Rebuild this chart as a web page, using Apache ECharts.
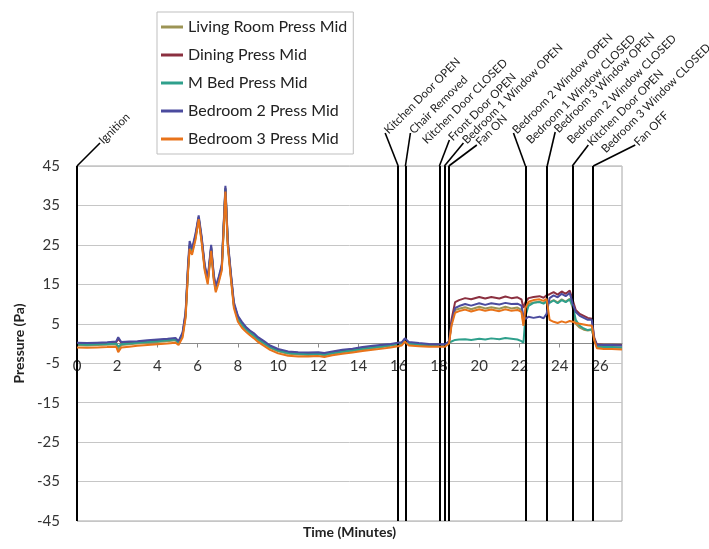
<!DOCTYPE html>
<html>
<head>
<meta charset="utf-8">
<script src="https://cdn.jsdelivr.net/npm/echarts@6/dist/echarts.min.js"></script>
<style>html,body{margin:0;padding:0;background:#fff;}#c{width:709px;height:549px;}</style>
</head>
<body>
<div id="c"></div>
<script>
// ---- data ----
const times = [
  0, 0.5, 1, 1.5, 1.95, 2.05, 2.2, 2.6, 3, 3.5,
  4, 4.5, 4.9, 5.05, 5.25, 5.4, 5.52, 5.6, 5.72, 5.9,
  6.05, 6.2, 6.35, 6.5, 6.67, 6.8, 6.9, 7.05, 7.2, 7.38,
  7.5, 7.65, 7.8, 8.0, 8.2, 8.4, 8.6, 8.8, 9.0, 9.3,
  9.6, 10.0, 10.5, 11, 11.5, 12, 12.3, 12.7, 13.2, 13.7,
  14.2, 14.7, 15.2, 15.6, 15.95, 16.15, 16.3, 16.5, 17, 17.5,
  18, 18.3, 18.5, 18.62, 18.8, 19, 19.3, 19.6, 20, 20.3,
  20.6, 21, 21.3, 21.6, 21.9, 22.1, 22.2, 22.3, 22.45, 22.7,
  23, 23.2, 23.35, 23.5, 23.7, 23.9, 24.1, 24.3, 24.5, 24.65,
  24.8, 25, 25.2, 25.4, 25.6, 25.72, 25.85, 26.2, 26.6, 27.1
];
const livingRoom = [
  -0.4, -0.5, -0.4, -0.3, -0.2, -1.5, -0.4, -0.2, 0, 0.2,
  0.4, 0.6, 0.8, 0, 2, 7, 18.5, 24.5, 23, 27,
  31.5, 26, 19, 15.5, 24, 16.5, 13.5, 16, 19, 39,
  25, 17, 9.5, 6, 4.5, 3.5, 2.6, 1.8, 0.9, -0.1,
  -1.1, -2.0, -2.6, -2.8, -2.9, -2.8, -3.0, -2.6, -2.2, -1.9,
  -1.5, -1.2, -0.9, -0.6, -0.3, 0.0, 0.7, -0.1, -0.4, -0.5,
  -0.5, -0.5, 0.3, 5, 8.5, 8.8, 9.2, 8.7, 9.3, 8.9,
  9.2, 8.8, 9.3, 8.9, 9.1, 8.5, 5, 8.5, 10, 10.4,
  10.6, 10.2, 10.8, 10.5, 11, 10.4, 11.2, 10.6, 11.3, 9,
  5, 4, 3.5, 3.3, 3.5, 1, -0.8, -1.0, -1.0, -1.1
];
const dining = [
  0, -0.1, 0, 0.1, 0.3, 1.2, 0.2, 0.3, 0.4, 0.6,
  0.8, 1.0, 1.2, 0.4, 2.5, 7.5, 19, 25, 23.5, 27.5,
  32, 26.5, 19.5, 16, 24.5, 17, 14, 16.5, 19.5, 39.5,
  25.5, 17.5, 10, 6.8, 5.2, 4.0, 3.1, 2.3, 1.3, 0.3,
  -0.7, -1.6, -2.2, -2.4, -2.5, -2.4, -2.6, -2.2, -1.8, -1.5,
  -1.1, -0.8, -0.5, -0.3, 0.0, 0.2, 1.0, 0.2, -0.1, -0.3,
  -0.3, -0.3, 0.5, 6, 10.5, 11, 11.5, 11.2, 11.8, 11.4,
  11.8, 11.4, 11.9, 11.5, 11.7, 11.2, 9, 10.5, 11.5, 11.8,
  12, 11.6, 12.2, 12.5, 13, 12.4, 13.2, 12.6, 13.4, 11,
  8.5, 7.5, 7, 6.5, 6.3, 1.5, -0.2, -0.3, -0.3, -0.4
];
const mBed = [
  -0.2, -0.3, -0.2, -0.1, 0, -0.8, -0.2, 0, 0.2, 0.4,
  0.6, 0.8, 1.0, 0.2, 2.2, 7.2, 18.8, 24.8, 23.2, 27.2,
  31.8, 26.2, 19.2, 15.8, 24.2, 16.8, 13.8, 16.2, 19.2, 39.2,
  25.2, 17.2, 9.8, 6.4, 4.8, 3.7, 2.8, 2.0, 1.1, 0.1,
  -0.9, -1.8, -2.4, -2.6, -2.7, -2.6, -2.8, -2.4, -2.0, -1.7,
  -1.3, -1.0, -0.7, -0.4, -0.1, 0.1, 0.8, 0.0, -0.2, -0.3,
  -0.3, -0.3, 0.2, 0.5, 0.9, 1.0, 1.1, 0.9, 1.2, 1.0,
  1.3, 1.1, 1.4, 1.2, 1.0, 0.6, 0.2, 7, 9.5, 10.3,
  10.5, 10.1, 10.6, 10.3, 10.9, 10.2, 11.0, 10.5, 11.2, 9.5,
  6, 4.5, 3.8, 3.4, 3.6, 1, -0.7, -0.9, -0.9, -1.0
];
const bedroom2 = [
  0.2, 0.1, 0.2, 0.3, 0.5, 1.6, 0.4, 0.5, 0.6, 0.8,
  1.0, 1.2, 1.4, 0.6, 2.8, 8, 20, 26, 24, 28,
  32.5, 27, 20, 16.5, 25, 17.5, 14.5, 17, 20, 40,
  26, 18, 10.5, 7, 5.5, 4.2, 3.3, 2.6, 1.6, 0.6,
  -0.5, -1.4, -2.0, -2.2, -2.3, -2.2, -2.4, -2.0, -1.6, -1.3,
  -0.9, -0.6, -0.3, -0.1, 0.2, 0.3, 1.3, 0.4, 0.1, -0.1,
  -0.2, -0.2, 0.5, 5, 9, 9.5, 10, 9.6, 10.2, 9.8,
  10.2, 9.9, 10.3, 10, 10.1, 9.6, 7, 6.2, 6.8, 6.5,
  6.8, 6.4, 7.5, 11.5, 12.2, 11.7, 12.6, 12, 12.8, 10,
  8, 7, 6.5, 6, 6, 1, -0.3, -0.4, -0.4, -0.5
];
const bedroom3 = [
  -1.0, -1.1, -1.0, -0.9, -0.8, -2.2, -1.0, -0.8, -0.6, -0.4,
  -0.2, 0.0, 0.2, -0.4, 1.5, 6.5, 18, 24, 22.5, 26.5,
  31.5, 25.5, 18.5, 15, 23.5, 16, 13, 15.5, 18.5, 38.5,
  24.5, 16.5, 9, 5.5, 4, 3, 2.1, 1.3, 0.4, -0.6,
  -1.6, -2.5, -3.1, -3.3, -3.3, -3.2, -3.4, -3.0, -2.6, -2.3,
  -1.9, -1.6, -1.3, -1.0, -0.7, -0.5, 0.5, -0.5, -0.7, -0.8,
  -0.8, -0.8, 0, 4.5, 7.8, 8.2, 8.6, 8.1, 8.7, 8.3,
  8.6, 8.2, 8.7, 8.3, 8.5, 8, 4.5, 9, 10.6, 11,
  11.2, 10.8, 11.3, 6, 5.5, 5.2, 5.6, 5.3, 5.7, 5.5,
  5.2, 5, 4.8, 4.6, 4.5, 0.8, -1.2, -1.4, -1.4, -1.5
];
const seriesNames = ['Living Room Press Mid', 'Dining Press Mid', 'M Bed Press Mid', 'Bedroom 2 Press Mid', 'Bedroom 3 Press Mid'];
const xTicks = [0, 2, 4, 6, 8, 10, 12, 14, 16, 18, 20, 22, 24, 26];
const yTicks = [-45, -35, -25, -15, -5, 5, 15, 25, 35, 45];
const eventTimes = [0, 15.97, 16.33, 18.02, 18.02, 18.27, 18.49, 22.3, 22.3, 23.38, 23.38, 24.63, 24.63, 25.67];
const eventLabels = ['Ignition', 'Kitchen Door OPEN', 'Chair Removed', 'Kitchen Door CLOSED', 'Front Door OPEN',
  'Bedroom 1 Window OPEN', 'Fan ON', 'Bedroom 2 Window OPEN', 'Bedroom 1 Window CLOSED', 'Bedroom 3 Window OPEN',
  'Bedroom 2 Window CLOSED', 'Kitchen Door OPEN', 'Bedroom 3 Window CLOSED', 'Fan OFF'];

// ---- layout / style (not data) ----
const colors = ['#9C9455', '#8B3040', '#2FA08C', '#4B4B9E', '#E8731A'];
// leader end offset from (event x, plot top) and whether a leader is drawn
const labelLayout = [[23,-23,1],[-13,-33,1],[5,-33,1],[-16,-23,0],[10,-26,1],[19,-23,1],[28,-21,1],
  [-12,-33,1],[2,-23,0],[8,-34,1],[21,-23,0],[16,-21,1],[30,-14,0],[42,-21,1]];
const FONT = 'Lato, "Open Sans", sans-serif';
const GRID = {left: 77, right: 87, top: 166, bottom: 28};
const PLOT_H = 549 - GRID.top - GRID.bottom;
// x axis crosses the y axis at 0: shift it up from the plot bottom by the share of the y range below 0
const X_AXIS_OFFSET = -PLOT_H * (0 - yTicks[0]) / (yTicks[yTicks.length - 1] - yTicks[0]);

const valuesList = [livingRoom, dining, mBed, bedroom2, bedroom3];
const chart = echarts.init(document.getElementById('c'), null, {renderer: 'canvas'});

const series = valuesList.map((vals, i) => ({
  name: seriesNames[i],
  type: 'line',
  data: times.map((t, k) => [t, vals[k]]),
  showSymbol: false,
  symbol: 'none',
  lineStyle: {color: colors[i], width: 2},
  itemStyle: {color: colors[i]},
  z: 2 + i
}));
series.push({
  name: 'events',
  type: 'line',
  data: [],
  z: 10,
  markLine: {
    silent: true,
    symbol: ['none', 'none'],
    label: {show: false},
    lineStyle: {color: '#000', width: 2, type: 'solid'},
    data: eventTimes.map(t => ({xAxis: t}))
  }
});

chart.setOption({
  animation: false,
  textStyle: {fontFamily: FONT},
  grid: Object.assign({outerBoundsMode: 'none', containLabel: false,
    show: true, borderColor: '#A6A6A6', borderWidth: 1, backgroundColor: 'transparent'}, GRID),
  legend: {
    data: seriesNames,
    orient: 'vertical',
    left: 157, top: 12,
    padding: [6, 6, 6, 4],
    borderColor: '#BFBFBF', borderWidth: 1,
    icon: 'rect', itemWidth: 22, itemHeight: 3,
    itemGap: 10,
    textStyle: {fontFamily: FONT, fontSize: 16, color: '#222', lineHeight: 18}
  },
  xAxis: {
    type: 'value', min: 0, max: 27.1, interval: 2,
    offset: X_AXIS_OFFSET,
    axisLine: {show: true, onZero: false, lineStyle: {color: '#8C8C8C', width: 1}},
    axisTick: {show: true, length: 4, lineStyle: {color: '#8C8C8C'}},
    axisLabel: {margin: 15, fontSize: 15, color: '#333', fontFamily: FONT,
      formatter: v => (xTicks.indexOf(v) >= 0 ? String(v) : ''), showMaxLabel: false},
    splitLine: {show: false},
    name: 'Time (Minutes)', nameLocation: 'middle', nameGap: 182,
    nameTextStyle: {fontSize: 14, fontWeight: 'bold', color: '#222', fontFamily: FONT}
  },
  yAxis: {
    type: 'value', min: -45, max: 45, interval: 10,
    axisLine: {show: true, onZero: false, lineStyle: {color: '#8C8C8C'}},
    axisTick: {show: false},
    axisLabel: {margin: 17, fontSize: 15, color: '#333', fontFamily: FONT,
      formatter: v => (yTicks.indexOf(v) >= 0 ? String(v) : '')},
    splitLine: {show: true, lineStyle: {color: '#C6C6C6', width: 1}},
    name: 'Pressure (Pa)', nameLocation: 'middle', nameGap: 50, nameRotate: 90,
    nameTextStyle: {fontSize: 14, fontWeight: 'bold', color: '#222', fontFamily: FONT}
  },
  series: series
});

// event leaders + rotated labels, positioned from the axis scale
const graphics = [];
eventTimes.forEach((t, i) => {
  const p = chart.convertToPixel({gridIndex: 0}, [t, 45]);
  const lay = labelLayout[i];
  const ex = p[0] + lay[0], ey = p[1] + lay[1];
  if (lay[2]) {
    graphics.push({type: 'line', silent: true, z: 20,
      shape: {x1: p[0], y1: p[1], x2: ex, y2: ey},
      style: {stroke: '#000', lineWidth: 1.6}});
  }
  graphics.push({type: 'text', silent: true, z: 20, x: ex + 1, y: ey - 1, rotation: Math.PI / 4,
    style: {text: eventLabels[i], fontSize: 11.5, fontFamily: FONT, fill: '#222', textAlign: 'left', textVerticalAlign: 'middle'}});
});
chart.setOption({graphic: graphics});
</script>
</body>
</html>
